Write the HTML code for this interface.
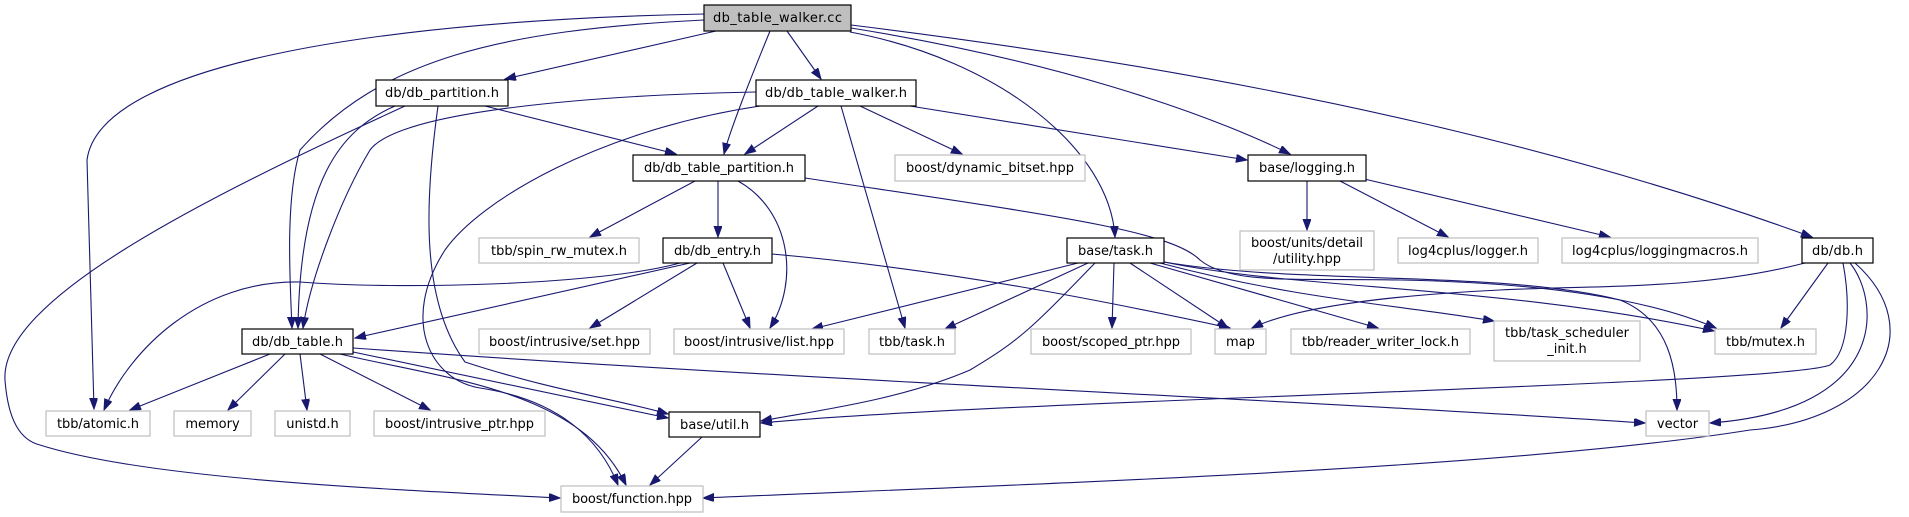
<!DOCTYPE html>
<html><head><meta charset="utf-8"><style>
html,body{margin:0;padding:0;background:#fff;}
svg{display:block;}
text{font-family:"DejaVu Sans","Liberation Sans",sans-serif;font-size:13px;fill:#000;}
.e{fill:none;stroke:#191970;stroke-width:1.1;marker-end:url(#a);}
.n{fill:#fff;stroke:#000;stroke-width:1.2;}
.g{fill:#fff;stroke:#bfbfbf;stroke-width:1.2;}
</style></head><body>
<svg width="1909" height="517" viewBox="0 0 1909 517" xmlns="http://www.w3.org/2000/svg">
<defs><marker id="a" markerUnits="userSpaceOnUse" markerWidth="12" markerHeight="10" refX="11" refY="4" orient="auto"><path d="M0,0 L11,4 L0,8 z" fill="#191970" stroke="#191970"/></marker></defs>
<path class="e" d="M704,14 C400,20 100,60 87,160 L94,409"/>
<path class="e" d="M704,20 C500,30 380,60 300,150 C285,200 290,280 292,328"/>
<path class="e" d="M716,31 L505,79"/>
<path class="e" d="M770,31 C750,80 730,130 724,154"/>
<path class="e" d="M787,31 L821,79"/>
<path class="e" d="M850,32 C1000,60 1110,150 1115,237"/>
<path class="e" d="M851,28 C1050,60 1200,110 1290,154"/>
<path class="e" d="M851,25 C1300,80 1600,160 1812,237"/>
<path class="e" d="M395,106 C340,130 300,180 298,328"/>
<path class="e" d="M756,92 C600,95 400,110 370,150 C340,200 310,280 303,328"/>
<path class="e" d="M405,106 C200,200 0,300 5,380 C8,420 20,440 40,445 C150,480 400,490 560,498"/>
<path class="e" d="M438,106 C425,200 420,300 465,362 C550,390 620,400 668,414"/>
<path class="e" d="M485,106 L676,154"/>
<path class="e" d="M818,106 L745,154"/>
<path class="e" d="M860,106 L962,154"/>
<path class="e" d="M910,106 L1247,160"/>
<path class="e" d="M841,106 L905,328"/>
<path class="e" d="M760,106 C600,130 480,200 445,250 C400,320 430,380 480,388 C560,400 600,440 618,485"/>
<path class="e" d="M340,354 C450,380 580,390 626,485"/>
<path class="e" d="M353,352 L668,418"/>
<path class="e" d="M695,181 L590,237"/>
<path class="e" d="M718,181 L718,237"/>
<path class="e" d="M738,181 C790,210 800,280 770,328"/>
<path class="e" d="M805,178 C1050,215 1170,230 1200,260 C1230,285 1300,278 1400,280 C1550,283 1650,300 1716,328"/>
<path class="e" d="M690,263 L355,338"/>
<path class="e" d="M680,263 C600,285 400,290 300,282 C200,280 130,350 104,410"/>
<path class="e" d="M697,263 L590,328"/>
<path class="e" d="M723,263 L750,328"/>
<path class="e" d="M772,254 C950,270 1100,300 1230,328"/>
<path class="e" d="M1078,263 L812,329"/>
<path class="e" d="M1088,263 L945,329"/>
<path class="e" d="M1095,263 C1030,330 1020,340 970,370 C900,400 820,410 761,421"/>
<path class="e" d="M1114,263 L1112,328"/>
<path class="e" d="M1130,263 L1228,328"/>
<path class="e" d="M1150,263 L1378,328"/>
<path class="e" d="M1160,263 C1300,300 1400,305 1494,321"/>
<path class="e" d="M1164,262 C1300,290 1500,285 1714,331"/>
<path class="e" d="M1164,262 C1300,285 1500,270 1620,300 C1670,320 1677,370 1677,410"/>
<path class="e" d="M1805,263 C1700,290 1600,285 1500,290 C1400,295 1300,305 1252,328"/>
<path class="e" d="M1828,263 L1781,328"/>
<path class="e" d="M1843,263 C1850,300 1850,350 1830,365 C1780,385 1000,400 761,423"/>
<path class="e" d="M1850,263 C1880,300 1890,410 1710,423"/>
<path class="e" d="M1855,263 C1930,330 1880,420 1750,430 C1500,470 1000,485 703,498"/>
<path class="e" d="M1307,181 L1307,230"/>
<path class="e" d="M1340,181 L1448,237"/>
<path class="e" d="M1360,178 L1610,237"/>
<path class="e" d="M270,354 L130,410"/>
<path class="e" d="M285,354 L228,410"/>
<path class="e" d="M300,354 L307,410"/>
<path class="e" d="M320,354 L430,410"/>
<path class="e" d="M353,348 C800,380 1300,400 1645,423"/>
<path class="e" d="M702,437 L650,485"/>
<rect x="704" y="5" width="147" height="26" fill="#bfbfbf" stroke="#000" stroke-width="1.2"/><text x="777.5" y="22" text-anchor="middle" textLength="129">db_table_walker.cc</text>
<rect class="n" x="376" y="80" width="132" height="26"/><text x="442" y="97" text-anchor="middle" textLength="114">db/db_partition.h</text>
<rect class="n" x="756" y="80" width="160" height="26"/><text x="836" y="97" text-anchor="middle" textLength="142">db/db_table_walker.h</text>
<rect class="n" x="633" y="155" width="172" height="26"/><text x="719" y="172" text-anchor="middle" textLength="150">db/db_table_partition.h</text>
<rect class="g" x="895" y="155" width="190" height="26"/><text x="990" y="172" text-anchor="middle" textLength="168">boost/dynamic_bitset.hpp</text>
<rect class="n" x="1248" y="155" width="118" height="26"/><text x="1307" y="172" text-anchor="middle" textLength="96">base/logging.h</text>
<rect class="g" x="1240" y="231" width="134" height="39"/><text x="1307" y="247" text-anchor="middle" textLength="112">boost/units/detail</text><text x="1307" y="263" text-anchor="middle" textLength="68">/utility.hpp</text>
<rect class="g" x="1398" y="238" width="140" height="25"/><text x="1468" y="255" text-anchor="middle" textLength="120">log4cplus/logger.h</text>
<rect class="g" x="1562" y="238" width="196" height="25"/><text x="1660" y="255" text-anchor="middle" textLength="176">log4cplus/loggingmacros.h</text>
<rect class="n" x="1802" y="238" width="71" height="25"/><text x="1837.5" y="255" text-anchor="middle" textLength="51">db/db.h</text>
<rect class="g" x="479" y="238" width="160" height="25"/><text x="559" y="255" text-anchor="middle" textLength="136">tbb/spin_rw_mutex.h</text>
<rect class="n" x="663" y="238" width="109" height="25"/><text x="717.5" y="255" text-anchor="middle" textLength="87">db/db_entry.h</text>
<rect class="n" x="1067" y="238" width="97" height="25"/><text x="1115.5" y="255" text-anchor="middle" textLength="75">base/task.h</text>
<rect class="n" x="242" y="329" width="111" height="25"/><text x="297.5" y="346" text-anchor="middle" textLength="91">db/db_table.h</text>
<rect class="g" x="479" y="329" width="171" height="25"/><text x="564.5" y="346" text-anchor="middle" textLength="151">boost/intrusive/set.hpp</text>
<rect class="g" x="674" y="329" width="170" height="25"/><text x="759" y="346" text-anchor="middle" textLength="150">boost/intrusive/list.hpp</text>
<rect class="g" x="869" y="329" width="86" height="25"/><text x="912" y="346" text-anchor="middle" textLength="66">tbb/task.h</text>
<rect class="g" x="1031" y="329" width="160" height="25"/><text x="1111" y="346" text-anchor="middle" textLength="138">boost/scoped_ptr.hpp</text>
<rect class="g" x="1215" y="329" width="51" height="25"/><text x="1240.5" y="346" text-anchor="middle">map</text>
<rect class="g" x="1291" y="329" width="179" height="25"/><text x="1380.5" y="346" text-anchor="middle" textLength="157">tbb/reader_writer_lock.h</text>
<rect class="g" x="1494" y="321" width="146" height="40"/><text x="1567" y="337" text-anchor="middle" textLength="124">tbb/task_scheduler</text><text x="1567" y="353" text-anchor="middle">_init.h</text>
<rect class="g" x="1715" y="329" width="101" height="25"/><text x="1765.5" y="346" text-anchor="middle" textLength="79">tbb/mutex.h</text>
<rect class="g" x="46" y="411" width="104" height="25"/><text x="98" y="428" text-anchor="middle" textLength="82">tbb/atomic.h</text>
<rect class="g" x="174" y="411" width="77" height="25"/><text x="212.5" y="428" text-anchor="middle">memory</text>
<rect class="g" x="275" y="411" width="75" height="25"/><text x="312.5" y="428" text-anchor="middle">unistd.h</text>
<rect class="g" x="374" y="411" width="171" height="25"/><text x="459.5" y="428" text-anchor="middle" textLength="149">boost/intrusive_ptr.hpp</text>
<rect class="n" x="669" y="412" width="91" height="25"/><text x="714.5" y="429" text-anchor="middle" textLength="69">base/util.h</text>
<rect class="g" x="1646" y="411" width="63" height="25"/><text x="1677.5" y="428" text-anchor="middle">vector</text>
<rect class="g" x="561" y="486" width="142" height="26"/><text x="632" y="503" text-anchor="middle" textLength="120">boost/function.hpp</text>
</svg>
</body></html>
